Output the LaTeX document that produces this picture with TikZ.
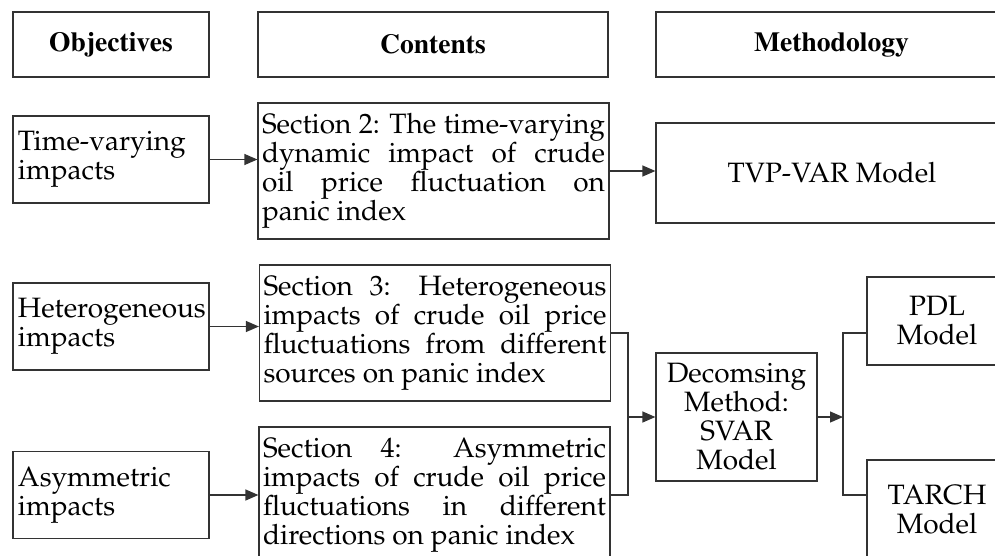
\documentclass[tikz,border=0pt]{standalone}
\usepackage[T1]{fontenc}
\usepackage{mathpazo}
\usepackage{xcolor}
\definecolor{boxline}{HTML}{333333}
\usepackage{tikz}
\usetikzlibrary{positioning, arrows.meta, calc}
\hyphenpenalty=10000

\begin{document}
\begin{tikzpicture}[
  x=0.5pt, y=-0.5pt,
  font=\fontsize{14}{14.5}\selectfont,
  box/.style={draw=boxline, line width=0.6pt, inner xsep=2.5pt, inner ysep=0pt},
  hdr/.style={box, minimum width=#1, minimum height=32.5pt,
              font=\fontfamily{ptm}\fontsize{13.8}{15}\bfseries\selectfont},
  obj/.style={box, text width=93pt, align=left, minimum height=43.5pt},
  sect/.style={box, inner xsep=2pt, text width=171.5pt, align=justify, minimum height=68pt},
  mdl/.style 2 args={box, align=center, minimum width=#1, minimum height=#2},
  flow/.style={-{Triangle[length=6.5pt, width=5.5pt]}, boxline, line width=0.6pt},
  link/.style={boxline, line width=0.6pt}
]
  \useasboundingbox (0,0) rectangle (995,556);

  % column headings
  \node[hdr=98pt]    (hobj) at (111,44.5)   {Objectives};
  \node[hdr=175pt]   (hcon) at (433,44.5)   {Contents};
  \node[hdr=175.5pt] (hmet) at (831.5,44.5) {Methodology};

  \node[obj] (tv)  at (111,159.5) {Time-varying\\impacts};
  \node[obj] (het) at (111,326.5) {Heterogeneous\\impacts};
  \node[obj] (asy) at (111,495)   {Asymmetric\\impacts};

  \node[sect] (sec2) at (433.5,171) {Section 2: The time-varying\linebreak
    dynamic impact of crude\linebreak oil price fluctuation on\linebreak panic index};
  \node[sect] (sec3) at (435,333) {Section 3: Heterogeneous\linebreak
    impacts of crude oil price\linebreak fluctuations from different\linebreak sources on panic index};
  \node[sect] (sec4) at (434.5,495) {Section 4: Asymmetric\linebreak
    impacts of crude oil price\linebreak fluctuations in different\linebreak directions on panic index};

  \node[mdl={176pt}{50pt}]   (tvp)   at (832,173)   {TVP-VAR Model};
  \node[mdl={80.5pt}{64pt}]  (svar)  at (736.5,417) {Decomsing\\Method:\\SVAR\\Model};
  \node[mdl={70pt}{44pt}]    (pdl)   at (937,321)   {PDL\\Model};
  \node[mdl={70pt}{50pt}]    (tarch) at (937,510)   {TARCH\\Model};

  \coordinate (jl) at (628,417);
  \coordinate (jr) at (843,417);

  \draw[flow] (tv.east)   -- (tv.east -| sec2.west);
  \draw[flow] (het.east)  -- (het.east -| sec3.west);
  \draw[flow] (asy.east)  -- (asy.east -| sec4.west);
  \draw[flow] (sec2.east) -- (sec2.east -| tvp.west);

  % join sections 3 and 4 into the decomposition
  \draw[link] (sec3.east) -| (jl) |- (sec4.east);
  \draw[flow] (jl) -- (svar.west);
  \draw[flow] (svar.east) -- (jr);
  \draw[link] (pdl.west |- sec3.east) -| (jr) |- (tarch.west |- sec4.east);
\end{tikzpicture}
\end{document}
